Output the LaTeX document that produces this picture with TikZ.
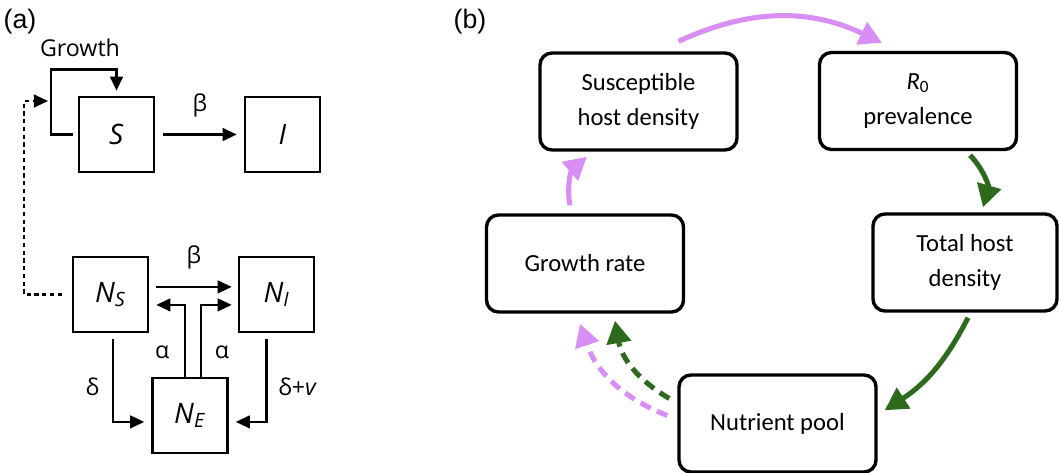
\documentclass[tikz,border=0pt]{standalone}
\usepackage{fontspec}
\setmainfont{Carlito}
\newfontfamily\modelfont{Open Sans}
\newfontfamily\panelfont{Liberation Sans}
\usetikzlibrary{arrows.meta,positioning}

\tikzset{
    compartment/.style={draw, line width=1.8pt, minimum size=1.875cm, inner sep=0pt, font=\modelfont\fontsize{20}{22}\selectfont},
    rate/.style={font=\modelfont\fontsize{16.5}{18}\selectfont},
    flow/.style={line width=1.6pt, -{Triangle[length=10pt,width=9pt]}},
    feedback/.style={flow, dash pattern=on 3pt off 2.5pt},
    state/.style={draw, line width=2.4pt, rounded corners=0.3cm, minimum width=4.925cm, minimum height=2.425cm, align=center, font=\fontsize{17.5}{25}\selectfont},
    effect/.style={line width=3.6pt, -{Triangle[length=16pt,width=17pt]}},
    weak effect/.style={effect, dash pattern=on 8pt off 5pt},
    panel/.style={font=\panelfont\fontsize{19}{21}\selectfont}
}

\begin{document}
\begin{tikzpicture}[x=0.025cm, y=-0.025cm]
    % Palette
    \definecolor{hostPink}{HTML}{D98EF5}
    \definecolor{hostGreen}{HTML}{2E6A1C}

    \useasboundingbox (0,0) rectangle (1059,473);

    % --- Panel (a): compartments ---
    \node[panel] (pa) at (20,22) {(a)};
    \node[compartment] (S) at (116.5,134.5) {\textit{S}};
    \node[compartment] (I) at (282.5,134.5) {\textit{I}};
    \node[compartment] (NS) at (110.5,294.5) {\textit{N}\textsubscript{\textit{S}}};
    \node[compartment] (NI) at (276.5,294.5) {\textit{N}\textsubscript{\textit{I}}};
    \node[compartment] (NE) at (190,415.5) {\textit{N}\textsubscript{\textit{E}}};
    \node[rate] (growth) at (80,48) {Growth};

    % host growth and infection
    \draw[flow] ([xshift=-0.125cm]S.west) -- ++(-22,0) -- ++(0,-65) -| ([yshift=0.125cm]S.north);
    \draw[flow] ([xshift=0.2cm]S.east) -- ([xshift=-0.175cm]I.west) node[rate, midway, above=0.3cm] {β};

    % nutrients feed back to growth
    \coordinate (gin) at (48,101);
    \draw[feedback] ([xshift=-0.25cm]NS.west) -| ([xshift=-0.6cm]gin) -- (gin);

    % nutrient flows
    \draw[flow] ([xshift=0.175cm,yshift=0.19cm]NS.east) -- ([xshift=-0.15cm,yshift=0.19cm]NI.west) node[rate, midway, above=0.3cm] {β};
    \draw[flow] ([xshift=-0.125cm]NE.north) |- ([xshift=0.175cm,yshift=-0.26cm]NS.east) node[rate, pos=0.17, left=0.25cm] {α};
    \draw[flow] ([xshift=0.275cm]NE.north) |- ([xshift=-0.15cm,yshift=-0.26cm]NI.west) node[rate, pos=0.17, right=0.2cm] {α};
    \draw[flow] ([xshift=0.06cm,yshift=-0.15cm]NS.south) |- ([xshift=-0.175cm,yshift=-0.16cm]NE.west) node[rate, pos=0.29, left=0.2cm] {δ};
    \draw[flow] ([xshift=-0.25cm,yshift=-0.15cm]NI.south) |- ([xshift=0.175cm,yshift=-0.16cm]NE.east) node[rate, pos=0.29, right=0.15cm] {δ+\textit{v}};

    % --- Panel (b): feedback loop ---
    \node[panel] (pb) at (470,22) {(b)};
    \node[state] (sus) at (638.5,101.5) {Susceptible\\host density};
    \node[state] (r0) at (918,101) {\textit{R}\textsubscript{0}\\prevalence};
    \node[state, minimum width=4.6cm] (total) at (965,262.5) {Total host\\density};
    \node[state] (grow) at (585,263.5) {Growth rate};
    \node[state] (nut) at (777.5,423.5) {Nutrient pool};

    \draw[effect, hostPink] ([xshift=1cm,yshift=0.25cm]sus.north) to[bend left=25] ([xshift=-0.9cm,yshift=0.2cm]r0.north);
    \draw[effect, hostGreen] ([xshift=1.3cm,yshift=-0.1cm]r0.south) to[bend left=30] ([xshift=0.45cm,yshift=0.125cm]total.north);
    \draw[effect, hostGreen] ([xshift=0.075cm,yshift=-0.125cm]total.south) to[bend left=15] ([xshift=0.175cm,yshift=0.33cm]nut.east);
    \draw[effect, hostPink] ([xshift=-0.375cm,yshift=0.2cm]grow.north) to[bend left=30] ([xshift=-1.29cm,yshift=-0.125cm]sus.south);
    \draw[weak effect, hostPink] ([xshift=-0.25cm,yshift=0.2cm]nut.west) to[bend left=25] ([xshift=-0.125cm,yshift=-0.25cm]grow.south);
    \draw[weak effect, hostGreen] ([xshift=-0.2cm,yshift=0.625cm]nut.west) to[bend left=25] ([xshift=0.75cm,yshift=-0.175cm]grow.south);

\end{tikzpicture}
\end{document}
